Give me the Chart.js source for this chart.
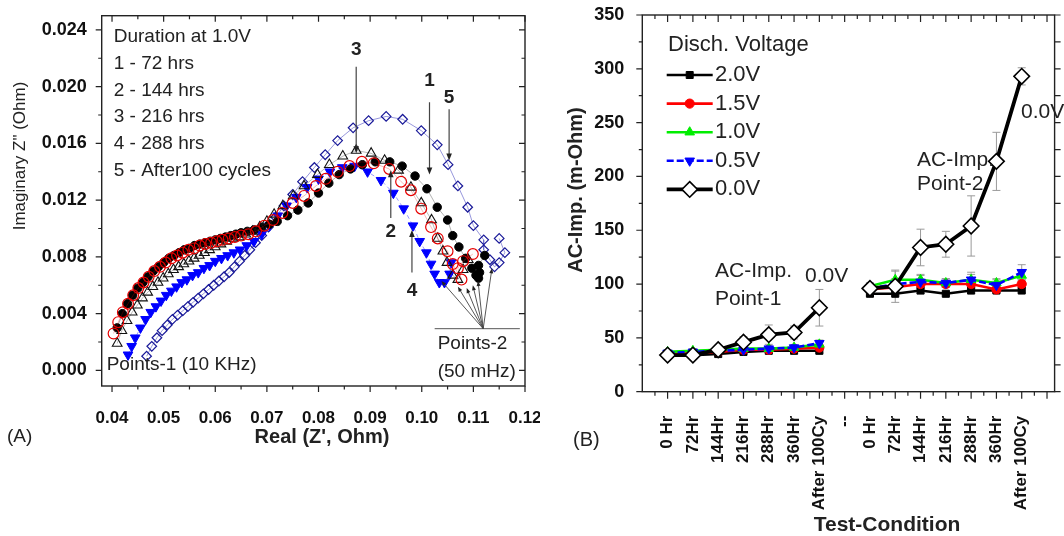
<!DOCTYPE html>
<html>
<head>
<meta charset="utf-8">
<script src="https://cdn.jsdelivr.net/npm/chart.js@4.4.0/dist/chart.umd.min.js"></script>
<style>
  html, body { margin: 0; padding: 0; background: #fff; }
  body { width: 1064px; height: 536px; position: relative; overflow: hidden; }
  canvas { position: absolute; top: 0; }
  #chartA { left: 0; }
  #chartB { left: 560px; }
</style>
</head>
<body>
<canvas id="chartA" width="540" height="536"></canvas>
<canvas id="chartB" width="504" height="536"></canvas>
<script>
// ---------- panel A : Nyquist plots ----------
const xTicksA = [0.04, 0.05, 0.06, 0.07, 0.08, 0.09, 0.10, 0.11, 0.12];
const yTicksA = [0.000, 0.004, 0.008, 0.012, 0.016, 0.020, 0.024];
const durationLines = ['Duration at 1.0V', '1 - 72 hrs', '2 - 144 hrs', '3 - 216 hrs', '4 - 288 hrs', '5 - After100 cycles'];

const hrs72 = [[0.0410,0.0030],[0.0420,0.0040],[0.0430,0.0047],[0.0440,0.0053],[0.0450,0.0058],[0.0460,0.0062],[0.0470,0.0066],[0.0480,0.0070],[0.0490,0.0073],[0.0500,0.0076],[0.0510,0.0079],[0.0520,0.0081],[0.0530,0.0083],[0.0540,0.0085],[0.0550,0.0086],[0.0560,0.0088],[0.0570,0.0089],[0.0580,0.0090],[0.0590,0.0091],[0.0600,0.0092],[0.0610,0.0093],[0.0620,0.0094],[0.0630,0.0095],[0.0640,0.0096],[0.0650,0.0097],[0.0662,0.0098],[0.0675,0.0099],[0.0690,0.0101],[0.0705,0.0103],[0.0720,0.0105],[0.0740,0.0109],[0.0760,0.0113],[0.0780,0.0118],[0.0800,0.0125],[0.0820,0.0132],[0.0840,0.0138],[0.0862,0.0142],[0.0885,0.0145],[0.0910,0.0147],[0.0938,0.0147],[0.0962,0.0144],[0.0987,0.0137],[0.1010,0.0128],[0.1030,0.0115],[0.1050,0.0106],[0.1060,0.0095],[0.1072,0.0087],[0.1085,0.0079],[0.1097,0.0072],[0.1105,0.0067],[0.1110,0.0065],[0.1112,0.0069],[0.1110,0.0074],[0.1122,0.0081]];
const hrs144 = [[0.0403,0.0026],[0.0412,0.0034],[0.0421,0.0041],[0.0431,0.0047],[0.0441,0.0053],[0.0451,0.0058],[0.0461,0.0062],[0.0471,0.0066],[0.0482,0.0070],[0.0493,0.0073],[0.0504,0.0076],[0.0515,0.0079],[0.0526,0.0081],[0.0537,0.0083],[0.0548,0.0085],[0.0559,0.0086],[0.0570,0.0088],[0.0581,0.0089],[0.0592,0.0090],[0.0603,0.0091],[0.0614,0.0092],[0.0626,0.0093],[0.0638,0.0094],[0.0650,0.0095],[0.0664,0.0096],[0.0679,0.0098],[0.0695,0.0102],[0.0712,0.0106],[0.0730,0.0111],[0.0750,0.0118],[0.0772,0.0123],[0.0795,0.0130],[0.0814,0.0135],[0.0837,0.0140],[0.0860,0.0144],[0.0884,0.0147],[0.0907,0.0146],[0.0937,0.0142],[0.0960,0.0133],[0.0979,0.0127],[0.0999,0.0114],[0.1018,0.0101],[0.1031,0.0093],[0.1050,0.0084],[0.1060,0.0075],[0.1077,0.0064],[0.1070,0.0072],[0.1080,0.0077],[0.1099,0.0082]];
const hrs216 = [[0.0410,0.0019],[0.0419,0.0028],[0.0429,0.0035],[0.0439,0.0041],[0.0449,0.0046],[0.0459,0.0051],[0.0469,0.0055],[0.0479,0.0059],[0.0489,0.0062],[0.0499,0.0065],[0.0509,0.0068],[0.0519,0.0071],[0.0529,0.0073],[0.0539,0.0075],[0.0549,0.0077],[0.0559,0.0079],[0.0569,0.0081],[0.0579,0.0083],[0.0589,0.0085],[0.0600,0.0087],[0.0611,0.0089],[0.0622,0.0091],[0.0634,0.0093],[0.0646,0.0094],[0.0659,0.0096],[0.0672,0.0098],[0.0686,0.0101],[0.0700,0.0105],[0.0714,0.0110],[0.0731,0.0116],[0.0751,0.0123],[0.0772,0.0130],[0.0798,0.0138],[0.0821,0.0145],[0.0847,0.0151],[0.0873,0.0155],[0.0902,0.0153],[0.0928,0.0148],[0.0955,0.0141],[0.0979,0.0129],[0.0999,0.0118],[0.1019,0.0106],[0.1031,0.0093],[0.1041,0.0084],[0.1049,0.0076],[0.1060,0.0067],[0.1070,0.0064],[0.1080,0.0071],[0.1090,0.0078]];
const hrs288 = [[0.0431,0.0011],[0.0438,0.0017],[0.0445,0.0023],[0.0455,0.0030],[0.0465,0.0036],[0.0475,0.0041],[0.0485,0.0045],[0.0495,0.0049],[0.0505,0.0053],[0.0515,0.0056],[0.0525,0.0059],[0.0535,0.0062],[0.0545,0.0064],[0.0556,0.0067],[0.0567,0.0069],[0.0578,0.0072],[0.0589,0.0074],[0.0600,0.0077],[0.0612,0.0079],[0.0624,0.0081],[0.0636,0.0083],[0.0648,0.0085],[0.0661,0.0088],[0.0675,0.0091],[0.0690,0.0096],[0.0705,0.0102],[0.0721,0.0109],[0.0738,0.0116],[0.0757,0.0122],[0.0778,0.0129],[0.0800,0.0135],[0.0822,0.0140],[0.0846,0.0143],[0.0870,0.0144],[0.0895,0.0140],[0.0921,0.0134],[0.0945,0.0125],[0.0965,0.0114],[0.0983,0.0102],[0.0996,0.0091],[0.1009,0.0083],[0.1018,0.0075],[0.1025,0.0068],[0.1034,0.0062],[0.1044,0.0062],[0.1054,0.0068],[0.1057,0.0076]];
const cycles100 = [[0.0467,0.0010],[0.0477,0.0017],[0.0487,0.0023],[0.0497,0.0028],[0.0507,0.0032],[0.0517,0.0036],[0.0527,0.0039],[0.0537,0.0042],[0.0547,0.0045],[0.0557,0.0048],[0.0567,0.0051],[0.0577,0.0054],[0.0587,0.0057],[0.0597,0.0060],[0.0607,0.0063],[0.0617,0.0066],[0.0627,0.0069],[0.0637,0.0073],[0.0647,0.0077],[0.0657,0.0081],[0.0667,0.0085],[0.0678,0.0090],[0.0690,0.0095],[0.0703,0.0101],[0.0717,0.0108],[0.0733,0.0116],[0.0750,0.0124],[0.0769,0.0133],[0.0792,0.0143],[0.0813,0.0152],[0.0837,0.0162],[0.0867,0.0171],[0.0897,0.0176],[0.0931,0.0179],[0.0963,0.0177],[0.0999,0.0169],[0.1030,0.0159],[0.1051,0.0145],[0.1070,0.0130],[0.1089,0.0115],[0.1100,0.0102],[0.1120,0.0092],[0.1120,0.0085],[0.1132,0.0078],[0.1141,0.0073],[0.1150,0.0076],[0.1161,0.0083],[0.1150,0.0093]];

// ---------- panel B : AC impedance vs test condition ----------
const conditions = ['0 Hr', '72Hr', '144Hr', '216Hr', '288Hr', '360Hr', 'After 100Cy', '--', '0 Hr', '72Hr', '144Hr', '216Hr', '288Hr', '360Hr', 'After 100Cy'];
const yTicksB = [0, 50, 100, 150, 200, 250, 300, 350];
const voltages = ['2.0V', '1.5V', '1.0V', '0.5V', '0.0V'];
const imp20 = [34, 34, 35, 37, 38, 38, 38, null, 91, 91, 94, 91, 94, 94, 94];
const imp15 = [35, 36, 37, 39, 39, 40, 41, null, 95, 97, 100, 100, 100, 95, 100];
const imp10 = [37, 38, 39, 40, 40, 41, 44, null, 98, 104, 104, 101, 104, 101, 108];
const imp05 = [36, 37, 38, 39, 40, 41, 45, null, 96, 100, 102, 101, 104, 99, 111];
const imp00 = [34, 34, 39, 46, 53, 55, 78, null, 96, 98, 134, 137, 154, 214, 293];
const err20 = [1, 1, 1, 1, 1, 1, 2, null, 2, 2, 3, 2, 3, 2, 2];
const err15 = [1, 1, 1, 1, 2, 2, 2, null, 3, 3, 4, 3, 4, 3, 3];
const err10 = [2, 2, 2, 2, 2, 2, 3, null, 3, 8, 5, 4, 5, 4, 4];
const err05 = [2, 2, 2, 2, 2, 2, 3, null, 4, 5, 6, 4, 7, 5, 7];
const err00 = [3, 3, 3, 5, 9, 6, 17, null, 5, 15, 17, 12, 28, 27, 8];

Chart.defaults.font.family = "'Liberation Sans', Arial, Helvetica, sans-serif";
Chart.defaults.color = '#111';

const FONT = "'Liberation Sans', Arial, sans-serif";

function pairs(list) {
    return list.map(p => ({ x: p[0], y: p[1] }));
}

// keep the plot box where the layout padding puts it
function noLabelPadding(s) {
    s.paddingLeft = 0;
    s.paddingRight = 0;
    s.paddingTop = 0;
    s.paddingBottom = 0;
}

function drawTickSet(ctx, scale, values, len, side, area) {
    ctx.beginPath();
    values.forEach(v => {
        const p = scale.getPixelForValue(v);
        if (side === 'bottom') { ctx.moveTo(p, area.bottom); ctx.lineTo(p, area.bottom + len); }
        if (side === 'top') { ctx.moveTo(p, area.top); ctx.lineTo(p, area.top - len); }
        if (side === 'left') { ctx.moveTo(area.left, p); ctx.lineTo(area.left - len, p); }
        if (side === 'right') { ctx.moveTo(area.right, p); ctx.lineTo(area.right + len, p); }
    });
    ctx.stroke();
}

function steps(from, to, step) {
    let out = [];
    for (let v = from; v <= to + step / 1000; v += step) out.push(+v.toFixed(6));
    return out;
}

function arrow(ctx, x1, y1, x2, y2, head) {
    const ang = Math.atan2(y2 - y1, x2 - x1);
    ctx.beginPath();
    ctx.moveTo(x1, y1);
    ctx.lineTo(x2 - Math.cos(ang) * head * 0.8, y2 - Math.sin(ang) * head * 0.8);
    ctx.stroke();
    ctx.beginPath();
    ctx.moveTo(x2, y2);
    ctx.lineTo(x2 - head * Math.cos(ang) + head * 0.4 * Math.sin(ang), y2 - head * Math.sin(ang) - head * 0.4 * Math.cos(ang));
    ctx.lineTo(x2 - head * Math.cos(ang) - head * 0.4 * Math.sin(ang), y2 - head * Math.sin(ang) + head * 0.4 * Math.cos(ang));
    ctx.closePath();
    ctx.fill();
}

function marker(ctx, style, x, y, r, fill, stroke, lw) {
    ctx.beginPath();
    if (style === 'rect') ctx.rect(x - r * 0.7, y - r * 0.7, r * 1.4, r * 1.4);
    if (style === 'circle') ctx.arc(x, y, r, 0, Math.PI * 2);
    if (style === 'tri') { ctx.moveTo(x, y - r); ctx.lineTo(x + r * 0.87, y + r * 0.5); ctx.lineTo(x - r * 0.87, y + r * 0.5); ctx.closePath(); }
    if (style === 'triDown') { ctx.moveTo(x, y + r); ctx.lineTo(x + r * 0.87, y - r * 0.5); ctx.lineTo(x - r * 0.87, y - r * 0.5); ctx.closePath(); }
    if (style === 'diamond') { ctx.moveTo(x, y - r); ctx.lineTo(x + r, y); ctx.lineTo(x, y + r); ctx.lineTo(x - r, y); ctx.closePath(); }
    ctx.fillStyle = fill;
    ctx.fill();
    ctx.lineWidth = lw;
    ctx.strokeStyle = stroke;
    ctx.stroke();
}

function text(ctx, str, x, y, font, align) {
    ctx.font = font;
    ctx.textAlign = align || 'left';
    ctx.textBaseline = 'middle';
    ctx.fillText(str, x, y);
}

// ---------- chart A ----------
const decorA = {
    id: 'decorA',
    afterDraw(chart) {
        const { ctx, chartArea: a, scales: { x, y } } = chart;
        ctx.save();
        ctx.strokeStyle = '#222';
        ctx.fillStyle = '#222';
        ctx.lineWidth = 1.4;
        ctx.strokeRect(a.left, a.top, a.right - a.left, a.bottom - a.top);

        const xMaj = steps(0.04, 0.12, 0.01), xMin = steps(0.045, 0.115, 0.01);
        const yMaj = steps(0, 0.024, 0.004), yMin = steps(0.002, 0.024, 0.004);
        ctx.lineWidth = 1.2;
        drawTickSet(ctx, x, xMaj, 6, 'bottom', a);
        drawTickSet(ctx, x, xMin, 3.5, 'bottom', a);
        drawTickSet(ctx, x, xMaj, -6, 'top', a);
        drawTickSet(ctx, x, xMin, -3.5, 'top', a);
        drawTickSet(ctx, y, yMaj, 6, 'left', a);
        drawTickSet(ctx, y, yMin, 3.5, 'left', a);
        drawTickSet(ctx, y, yMaj, -6, 'right', a);
        drawTickSet(ctx, y, yMin, -3.5, 'right', a);

        // legend text block
        ctx.fillStyle = '#222';
        durationLines.forEach((line, i) => text(ctx, line, a.left + 12, a.top + 21 + i * 26.8, '19px ' + FONT));

        // numbered arrows
        ctx.strokeStyle = '#444';
        ctx.fillStyle = '#222';
        ctx.lineWidth = 1.2;
        const down = [['3', 0.0873, 0.0214, 0.0153, 0.0226], ['1', 0.1015, 0.0189, 0.0138, 0.0204], ['5', 0.1053, 0.0184, 0.0148, 0.0192]];
        down.forEach(d => {
            const px = x.getPixelForValue(d[1]);
            arrow(ctx, px, y.getPixelForValue(d[2]), px, y.getPixelForValue(d[3]), 7);
            text(ctx, d[0], px, y.getPixelForValue(d[4]), 'bold 19px ' + FONT, 'center');
        });
        const up = [['2', 0.0940, 0.01075, 0.0141, 0.0098], ['4', 0.0981, 0.0069, 0.0099, 0.0056]];
        up.forEach(d => {
            const px = x.getPixelForValue(d[1]);
            arrow(ctx, px, y.getPixelForValue(d[2]), px, y.getPixelForValue(d[3]), 7);
            text(ctx, d[0], px, y.getPixelForValue(d[4]), 'bold 19px ' + FONT, 'center');
        });

        // Points-2 fan
        const ox = x.getPixelForValue(0.1119), oy = y.getPixelForValue(0.00294);
        ctx.lineWidth = 0.9;
        [[0.1038, 0.0063], [0.1070, 0.0059], [0.1087, 0.0058], [0.1099, 0.0060], [0.1109, 0.0063], [0.1136, 0.0072]].forEach(t => {
            arrow(ctx, ox, oy, x.getPixelForValue(t[0]), y.getPixelForValue(t[1]), 5);
        });
        ctx.beginPath();
        ctx.moveTo(x.getPixelForValue(0.1025), oy);
        ctx.lineTo(x.getPixelForValue(0.1190), oy);
        ctx.stroke();

        ctx.fillStyle = '#222';
        text(ctx, 'Points-1 (10 KHz)', a.left + 5, a.bottom - 21, '19px ' + FONT);
        text(ctx, 'Points-2', x.getPixelForValue(0.1025) + 3, oy + 15, '19px ' + FONT);
        text(ctx, '(50 mHz)', x.getPixelForValue(0.1025) + 3, oy + 43, '19px ' + FONT);

        // axis titles and panel tag
        text(ctx, 'Real (Z\', Ohm)', 322, 437, 'bold 20px ' + FONT, 'center');
        text(ctx, '(A)', 7, 437, '19px ' + FONT);
        ctx.save();
        ctx.translate(20, 156);
        ctx.rotate(-Math.PI / 2);
        text(ctx, 'Imaginary Z" (Ohm)', 0, 0, '17px ' + FONT, 'center');
        ctx.restore();
        ctx.restore();
    }
};

new Chart(document.getElementById('chartA'), {
    type: 'scatter',
    data: {
        datasets: [
            { label: '2 - 144 hrs', data: pairs(hrs144), showLine: true, borderColor: 'rgba(230,0,0,0.35)', borderWidth: 0.8,
              pointStyle: 'circle', pointRadius: 5.4, pointBorderColor: '#e60000', pointBackgroundColor: 'rgba(0,0,0,0)', pointBorderWidth: 1.2, order: 0 },
            { label: '3 - 216 hrs', data: pairs(hrs216), showLine: true, borderColor: 'rgba(0,0,0,0.35)', borderWidth: 0.8,
              pointStyle: 'triangle', pointRadius: 5.6, pointBorderColor: '#111', pointBackgroundColor: 'rgba(0,0,0,0)', pointBorderWidth: 1.1, order: 1 },
            { label: '1 - 72 hrs', data: pairs(hrs72), showLine: true, borderColor: 'rgba(60,60,60,0.5)', borderWidth: 0.8,
              pointStyle: 'circle', pointRadius: 4.2, pointBorderColor: '#000', pointBackgroundColor: '#000', pointBorderWidth: 1, order: 2 },
            { label: '4 - 288 hrs', data: pairs(hrs288), showLine: true, borderColor: 'rgba(0,0,255,0.5)', borderWidth: 0.8, borderDash: [4, 3],
              pointStyle: 'triangle', pointRotation: 180, pointRadius: 5.6, pointBorderColor: '#0000ff', pointBackgroundColor: '#0000ff', pointBorderWidth: 1, order: 3 },
            { label: '5 - After100 cycles', data: pairs(cycles100), showLine: true, borderColor: 'rgba(90,90,200,0.7)', borderWidth: 0.9,
              pointStyle: 'rectRot', pointRadius: 4.8, pointBorderColor: '#1a1a99', pointBackgroundColor: 'rgba(0,0,0,0)', pointBorderWidth: 1.2, order: 4 }
        ]
    },
    options: {
        responsive: false,
        animation: false,
        devicePixelRatio: 1,
        layout: { padding: { left: 0, right: 15, top: 15.7, bottom: 0 } },
        plugins: { legend: { display: false }, tooltip: { enabled: false } },
        scales: {
            x: {
                type: 'linear', min: 0.038, max: 0.12,
                grid: { display: false }, border: { display: false },
                afterBuildTicks: s => { s.ticks = xTicksA.map(v => ({ value: v })); },
                afterFit: s => { s.height = 150; noLabelPadding(s); },
                ticks: { padding: 14, font: { size: 17, weight: 'bold' }, color: '#111', callback: v => v.toFixed(2) }
            },
            y: {
                type: 'linear', min: -0.0011, max: 0.025,
                grid: { display: false }, border: { display: false },
                afterBuildTicks: s => { s.ticks = yTicksA.map(v => ({ value: v })); },
                afterFit: s => { s.width = 101.7; noLabelPadding(s); },
                ticks: { padding: 7, font: { size: 18, weight: 'bold' }, color: '#111', callback: v => v.toFixed(3) }
            }
        }
    },
    plugins: [decorA]
});

// ---------- chart B ----------
const styleB = [
    { color: '#000000', point: 'rect', pt: 'rect', r: 5, fill: '#000', dash: [], width: 2.6 },
    { color: '#ff0000', point: 'circle', pt: 'circle', r: 4.6, fill: '#ff0000', dash: [], width: 2.6 },
    { color: '#00ee00', point: 'triangle', pt: 'tri', r: 5.5, fill: '#00ee00', dash: [], width: 2.6 },
    { color: '#0000ff', point: 'triangle', pt: 'triDown', r: 5.5, fill: '#0000ff', dash: [7, 3], width: 2.6 },
    { color: '#000000', point: 'rectRot', pt: 'diamond', r: 7.8, fill: '#ffffff', dash: [], width: 3.8 }
];
const seriesB = [imp20, imp15, imp10, imp05, imp00];
const errorsB = [err20, err15, err10, err05, err00];

const decorB = {
    id: 'decorB',
    beforeDatasetsDraw(chart) {
        const { ctx, scales: { x, y } } = chart;
        ctx.save();
        ctx.strokeStyle = '#9a9a9a';
        ctx.lineWidth = 1;
        chart.data.datasets.forEach(ds => {
            ds.data.forEach((p, i) => {
                const e = ds.errors[i];
                if (p.y === null || !e) return;
                const px = x.getPixelForValue(p.x);
                const t = y.getPixelForValue(p.y + e), b = y.getPixelForValue(p.y - e);
                ctx.beginPath();
                ctx.moveTo(px, t); ctx.lineTo(px, b);
                ctx.moveTo(px - 4, t); ctx.lineTo(px + 4, t);
                ctx.moveTo(px - 4, b); ctx.lineTo(px + 4, b);
                ctx.stroke();
            });
        });
        ctx.restore();
    },
    afterDraw(chart) {
        const { ctx, chartArea: a, scales: { x, y } } = chart;
        ctx.save();
        ctx.strokeStyle = '#222';
        ctx.lineWidth = 1.4;
        ctx.strokeRect(a.left, a.top, a.right - a.left, a.bottom - a.top);

        const xMaj = steps(0, 15, 1), xMin = steps(-0.5, 14.5, 1);
        const yMaj = steps(0, 350, 50), yMin = steps(25, 325, 50);
        ctx.lineWidth = 1.2;
        drawTickSet(ctx, x, xMaj, 7, 'bottom', a);
        drawTickSet(ctx, x, xMin, 4, 'bottom', a);
        drawTickSet(ctx, x, xMaj, -7, 'top', a);
        drawTickSet(ctx, x, xMin, -4, 'top', a);
        drawTickSet(ctx, y, yMaj, 6, 'left', a);
        drawTickSet(ctx, y, yMin, 3.5, 'left', a);
        drawTickSet(ctx, y, yMaj, 6, 'right', a);
        drawTickSet(ctx, y, yMin, 6, 'right', a);

        // legend
        ctx.fillStyle = '#222';
        text(ctx, 'Disch. Voltage', 108, 45, '22px ' + FONT);
        voltages.forEach((v, i) => {
            const st = styleB[i];
            const ly = 75 + i * 28.6;
            ctx.strokeStyle = st.color;
            ctx.lineWidth = st.width;
            ctx.setLineDash(st.dash);
            ctx.beginPath();
            ctx.moveTo(106.7, ly);
            ctx.lineTo(152.7, ly);
            ctx.stroke();
            ctx.setLineDash([]);
            marker(ctx, st.pt, 129.7, ly, st.r, st.fill, st.color === '#000000' ? '#000' : st.color, i === 4 ? 1.6 : 1);
            ctx.fillStyle = '#222';
            text(ctx, v, 155, ly, '22px ' + FONT);
        });

        // annotations
        text(ctx, 'AC-Imp.', 155, 271, '21px ' + FONT);
        text(ctx, 'Point-1', 155, 299, '21px ' + FONT);
        text(ctx, '0.0V', 245, 276, '21px ' + FONT);
        text(ctx, 'AC-Imp.', 357, 160, '21px ' + FONT);
        text(ctx, 'Point-2', 357, 184, '21px ' + FONT);
        text(ctx, '0.0V', 461, 112, '21px ' + FONT);

        text(ctx, '(B)', 13, 440, '20px ' + FONT);
        text(ctx, 'Test-Condition', 327, 525, 'bold 21px ' + FONT, 'center');
        ctx.save();
        ctx.translate(16, 190);
        ctx.rotate(-Math.PI / 2);
        text(ctx, 'AC-Imp. (m-Ohm)', 0, 0, 'bold 20px ' + FONT, 'center');
        ctx.restore();
        ctx.restore();
    }
};

new Chart(document.getElementById('chartB'), {
    type: 'line',
    data: {
        datasets: seriesB.map((vals, i) => ({
            label: voltages[i],
            data: vals.map((v, k) => ({ x: k, y: v })),
            errors: errorsB[i],
            borderColor: styleB[i].color,
            borderWidth: styleB[i].width,
            borderDash: styleB[i].dash,
            pointStyle: styleB[i].point,
            pointRotation: styleB[i].pt === 'triDown' ? 180 : 0,
            pointRadius: styleB[i].r,
            pointBackgroundColor: styleB[i].fill,
            pointBorderColor: styleB[i].color,
            pointBorderWidth: i === 4 ? 1.6 : 1,
            spanGaps: false,
            fill: false,
            tension: 0,
            order: 4 - i
        }))
    },
    options: {
        responsive: false,
        animation: false,
        devicePixelRatio: 1,
        layout: { padding: { left: 0, right: 4, top: 15, bottom: 0 } },
        plugins: { legend: { display: false }, tooltip: { enabled: false } },
        scales: {
            x: {
                type: 'linear', min: -1, max: 15.3,
                grid: { display: false }, border: { display: false },
                afterBuildTicks: s => { s.ticks = conditions.map((c, i) => ({ value: i })); },
                afterFit: s => { s.height = 144.3; noLabelPadding(s); },
                ticks: {
                    padding: 16, autoSkip: false, minRotation: 90, maxRotation: 90,
                    font: { size: 17, weight: 'bold' }, color: '#111',
                    callback: (v, i) => conditions[i]
                }
            },
            y: {
                type: 'linear', min: 0, max: 350,
                grid: { display: false }, border: { display: false },
                afterBuildTicks: s => { s.ticks = yTicksB.map(v => ({ value: v })); },
                afterFit: s => { s.width = 82.3; noLabelPadding(s); },
                ticks: { padding: 10, font: { size: 18, weight: 'bold' }, color: '#111' }
            }
        }
    },
    plugins: [decorB]
});
</script>
</body>
</html>
